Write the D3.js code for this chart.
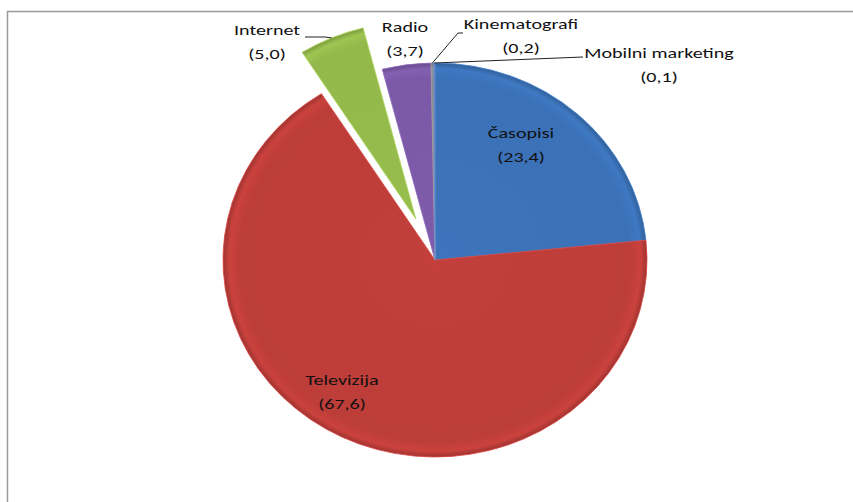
<!DOCTYPE html>
<html>
<head>
<meta charset="utf-8">
<script src="https://cdn.jsdelivr.net/npm/d3@7"></script>
<style>
  body { margin: 0; background: #fff; }
  text { font-family: Carlito, Lato, "Open Sans", sans-serif; font-size: 15px; fill: #111; }
</style>
</head>
<body>
<div id="chart-area"></div>
<script>
var categories = ["Časopisi", "Televizija", "Internet", "Radio", "Kinematografi", "Mobilni marketing"];
var values = [23.4, 67.6, 5.0, 3.7, 0.2, 0.1];
var valueLabels = ["(23,4)", "(67,6)", "(5,0)", "(3,7)", "(0,2)", "(0,1)"];
var colors = ["#3b71b6", "#bd3d39", "#93b84b", "#7b59a6", "#8a8a8a", "#5a7ab0"];
var exploded = ["Internet"];

var width = 853;
var height = 502;
var cx = 435, cy = 260;
var radius = 197;
var stretch = 212 / 197;
var textStretch = 1.34;
var explode = 45;

// label anchors (centre of text, first baseline), and leader bends
var labelPos = {
  "Časopisi": {x: 521, y: 138},
  "Televizija": {x: 342, y: 385},
  "Internet": {x: 267, y: 35, line: [[305, 37], [325, 37]]},
  "Radio": {x: 405, y: 32},
  "Kinematografi": {x: 521, y: 29, line: [[463, 33], [458, 33]]},
  "Mobilni marketing": {x: 659, y: 58, line: [[583, 57]]}
};

var data = categories.map((c, i) => ({name: c, value: values[i], label: valueLabels[i], color: colors[i]}));

var svg = d3.select("#chart-area")
  .append("svg")
  .attr("width", width)
  .attr("height", height);

// frame
svg.append("path")
  .attr("d", "M7.5,502 V11.5 H853")
  .attr("fill", "none")
  .attr("stroke", "#9a9a9a")
  .attr("stroke-width", 1.5);

var defs = svg.append("defs");
data.forEach((d, i) => {
  var base = d3.color(d.color);
  var g = defs.append("radialGradient")
    .attr("id", "grad" + i)
    .attr("gradientUnits", "userSpaceOnUse")
    .attr("cx", 0).attr("cy", 0).attr("r", radius);
  g.append("stop").attr("offset", "0%").attr("stop-color", base.brighter(0.08));
  g.append("stop").attr("offset", "92%").attr("stop-color", base);
  g.append("stop").attr("offset", "97%").attr("stop-color", base.brighter(0.2));
  g.append("stop").attr("offset", "100%").attr("stop-color", base.darker(0.5));
});

var pie = d3.pie().sort(null).value((d) => d.value);
var arc = d3.arc().innerRadius(0).outerRadius(radius);
var arcs = pie(data);

function offset(d) {
  if (exploded.indexOf(d.data.name) < 0) return [0, 0];
  var a = (d.startAngle + d.endAngle) / 2;
  return [Math.sin(a) * explode, -Math.cos(a) * explode];
}

// screen point on slice rim at mid angle
function rimPoint(d) {
  var a = (d.startAngle + d.endAngle) / 2;
  var o = offset(d);
  return [cx + (Math.sin(a) * radius + o[0]) * stretch, cy - Math.cos(a) * radius + o[1]];
}

var pieGroup = svg.append("g")
  .attr("transform", "translate(" + cx + "," + cy + ") scale(" + stretch + ",1)");

pieGroup.selectAll(".slice")
  .data(arcs)
  .enter()
  .append("path")
  .attr("class", "slice")
  .attr("transform", (d) => "translate(" + offset(d) + ")")
  .attr("d", arc)
  .attr("fill", (d, i) => "url(#grad" + i + ")")
  .attr("stroke", (d) => d3.color(d.data.color).brighter(0.4))
  .attr("stroke-width", 0.8);

// leader lines
arcs.forEach((d) => {
  var p = labelPos[d.data.name];
  if (!p.line) return;
  var pts = p.line.slice().concat([rimPoint(d)]);
  svg.append("path")
    .attr("d", d3.line()(pts))
    .attr("fill", "none")
    .attr("stroke", "#222")
    .attr("stroke-width", 1);
});

// labels (text widened like the stretched original)
var labels = svg.selectAll(".label")
  .data(arcs)
  .enter()
  .append("g")
  .attr("class", "label")
  .attr("transform", (d) => "translate(" + labelPos[d.data.name].x + "," + labelPos[d.data.name].y + ") scale(" + textStretch + ",1)")
  .append("text")
  .attr("text-anchor", "middle");

labels.append("tspan")
  .attr("x", 0)
  .attr("y", 0)
  .text((d) => d.data.name);

labels.append("tspan")
  .attr("x", 0)
  .attr("y", 24)
  .text((d) => d.data.label);
</script>
</body>
</html>
